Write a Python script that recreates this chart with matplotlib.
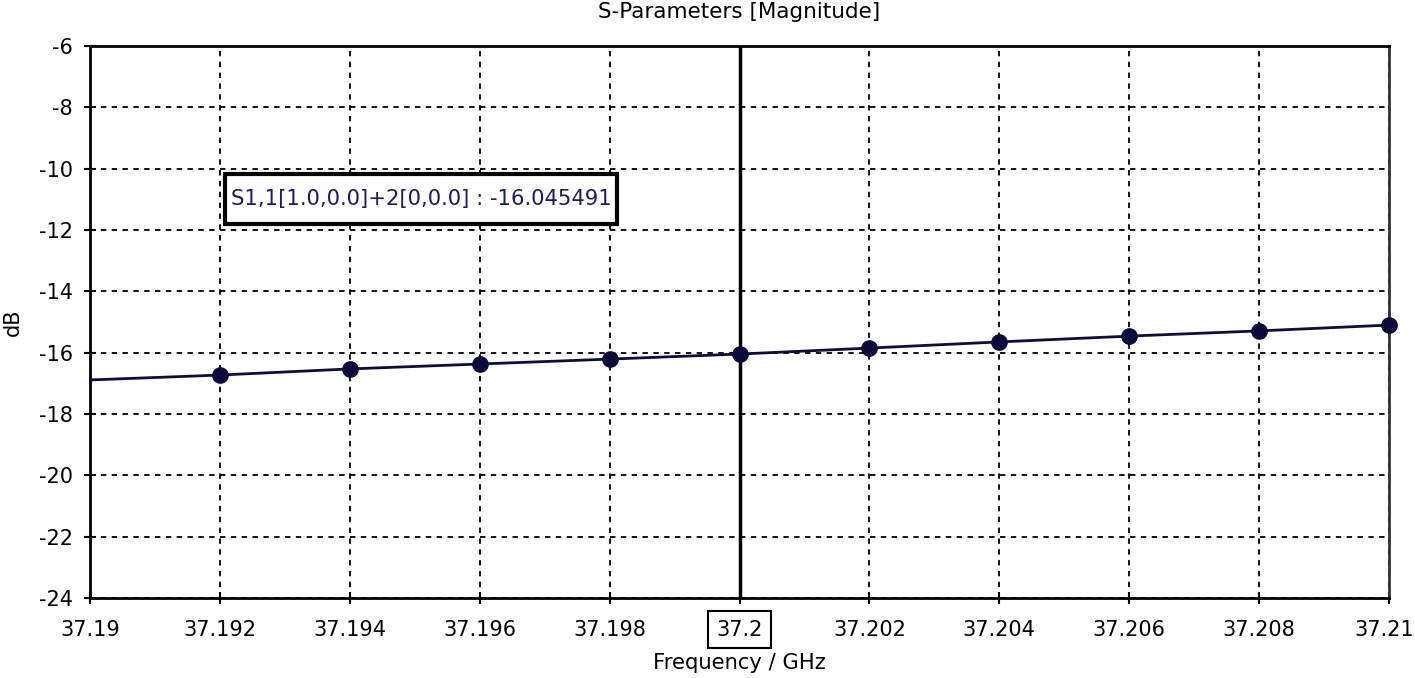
import matplotlib
matplotlib.use("Agg")
import matplotlib.pyplot as plt
import matplotlib.transforms as mtransforms
from matplotlib.patches import Rectangle

# Data
freq_line = [37.19, 37.192, 37.194, 37.196, 37.198, 37.2, 37.202, 37.204, 37.206, 37.208, 37.21]
s11_line = [-16.89, -16.73, -16.53, -16.37, -16.21, -16.045, -15.85, -15.65, -15.46, -15.29, -15.10]
freq_markers = [37.192, 37.194, 37.196, 37.198, 37.2, 37.202, 37.204, 37.206, 37.208, 37.21]
s11_markers = [-16.73, -16.53, -16.37, -16.21, -16.045, -15.85, -15.65, -15.46, -15.29, -15.10]
xticks = [37.19, 37.192, 37.194, 37.196, 37.198, 37.2, 37.202, 37.204, 37.206, 37.208, 37.21]
xtick_labels = ["37.19", "37.192", "37.194", "37.196", "37.198", "37.2", "37.202", "37.204", "37.206", "37.208", "37.21"]
yticks = [-24, -22, -20, -18, -16, -14, -12, -10, -8, -6]
cursor_x = 37.2
annot_text = "S1,1[1.0,0.0]+2[0,0.0] : -16.045491"

plt.rcParams['font.family'] = ['DejaVu Sans']
fig = plt.figure(figsize=(14.15, 6.78), dpi=100)
ax = fig.add_axes([90/1415, 1-598/678, (1389-90)/1415, (598-46)/678])

ax.plot(freq_line, s11_line, color='#0d0d3d', lw=2.0, zorder=3)
ax.plot(freq_markers, s11_markers, 'o', color='#0a0a3c', ms=11, zorder=4, clip_on=False)
ax.axvline(cursor_x, color='black', lw=2.5, zorder=2)

ax.set_xlim(37.19, 37.21)
ax.set_ylim(-24, -6)
ax.set_xticks(xticks)
ax.set_xticklabels(xtick_labels)
ax.set_yticks(yticks)
ax.set_yticklabels([str(v) for v in yticks])
ax.tick_params(direction='inout', length=9, width=1.5, labelsize=15, colors='black')
ax.tick_params(axis='x', pad=11)
ax.tick_params(axis='y', pad=8)
ax.grid(True, color='black', linestyle=(0, (3, 3)), lw=1.3)

for s in ['left', 'bottom', 'top']:
    ax.spines[s].set_linewidth(2)
    ax.spines[s].set_color('black')
ax.spines['right'].set_linewidth(2)
ax.spines['right'].set_color('#333333')

for lbl in ax.get_xticklabels():
    if lbl.get_text() == '37.2':
        lbl.set_bbox(dict(boxstyle='square,pad=0.4', fc='white', ec='black', lw=1.5))
    if lbl.get_text() == '37.21':
        lbl.set_transform(lbl.get_transform() + mtransforms.ScaledTranslation(-5/100, 0, fig.dpi_scale_trans))

ax.set_title("S-Parameters [Magnitude]", fontsize=15.5, pad=20)
ax.set_xlabel("Frequency / GHz", fontsize=15.2, labelpad=10)
ax.set_ylabel("dB", fontsize=15, labelpad=11)

# annotation box (axes-fraction placement)
bx0, bx1 = (225-90)/1299, (617-90)/1299
by0, by1 = (598-224)/552, (598-174)/552
ax.add_patch(Rectangle((bx0, by0), bx1-bx0, by1-by0, transform=ax.transAxes,
                       fc='white', ec='black', lw=3, zorder=6))
ax.text((bx0+bx1)/2, (by0+by1)/2, annot_text, transform=ax.transAxes, fontsize=15.2,
        color='#1b1b6b', va='center', ha='center', zorder=7)

fig.savefig("out.png", dpi=100)
